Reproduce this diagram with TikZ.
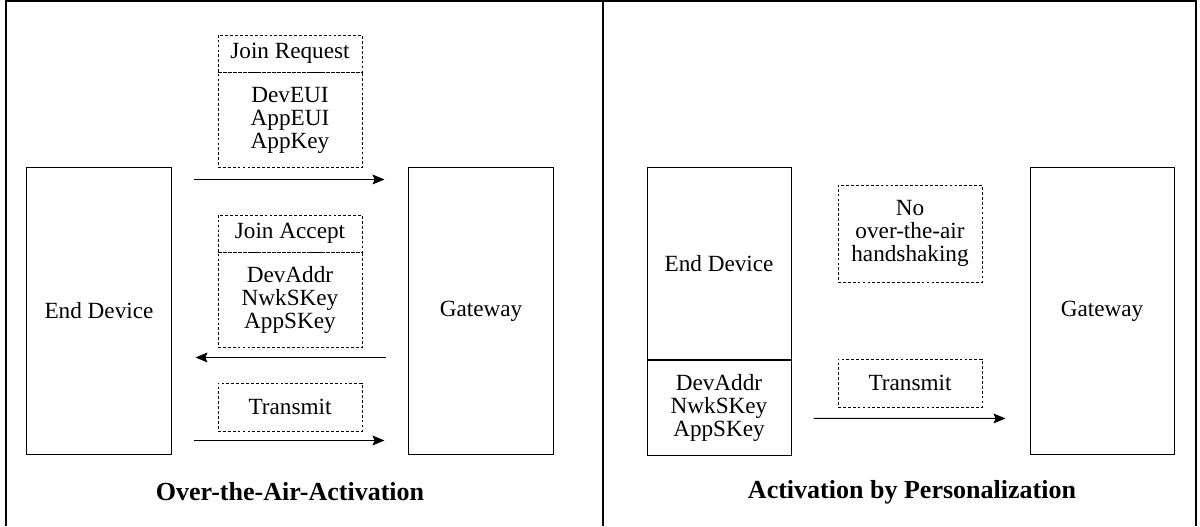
\documentclass[tikz,border=0pt]{standalone}
\usepackage{fontspec}
\setmainfont{Liberation Serif}
\usetikzlibrary{positioning,arrows.meta,calc}

\begin{document}
\begin{tikzpicture} [
        x = 0.025cm, y = -0.025cm,
        every node/.style = { font = \fontsize{16.5}{16.4}\selectfont, align = center, inner sep = 0 },
        device/.style = { draw, line width = 0.7pt, minimum width = 3.6cm },
        field/.style = { draw, dashed, dash pattern = on 2pt off 1.5pt, line width = 0.6pt, minimum width = 3.6cm },
        msg/.style = { -{Stealth[length = 8.5pt, width = 7pt, inset = 1.5pt]}, line width = 0.7pt,
                       shorten < = 0.55cm, shorten > = 0.6cm },
        title/.style = { font = \fontsize{18.5}{20}\selectfont\bfseries }
        ]
        \useasboundingbox (0,0) rectangle (1200,526);

        % frame
        \draw [line width = 1.2pt] (6,526) -- (6,1) -- (1196,1) -- (1196,526);
        \draw [line width = 0.8pt] (603,1) -- (603,526);

        % over-the-air activation
        \node [device, minimum height = 7.15cm] (ed1) at (99,311) {End Device};
        \node [device, minimum height = 7.15cm] (gw1) at (481,311) {Gateway};

        \node [field, minimum height = 0.925cm] (jreq) at (290,53.5) {Join Request};
        \node [field, minimum height = 2.375cm, below = 0pt of jreq] (jreqkeys) {DevEUI\\AppEUI\\AppKey};
        \node [field, minimum height = 0.925cm] (jacc) at (290,233.5) {Join Accept};
        \node [field, minimum height = 2.375cm, below = 0pt of jacc] (jacckeys) {DevAddr\\NwkSKey\\AppSKey};
        \node [field, minimum height = 1.2cm] (tx1) at (290,407) {Transmit};

        \draw [msg] ($(ed1.north east)+(0,12)$) -- ($(gw1.north west)+(0,12)$);
        \draw [msg] ($(gw1.north west)+(0,190)$) -- ($(ed1.north east)+(0,190)$);
        \draw [msg] ($(ed1.north east)+(0,273)$) -- ($(gw1.north west)+(0,273)$);

        \node [title] (otaa) at (290,492) {Over-the-Air-Activation};

        % activation by personalization
        \node [device, minimum height = 4.775cm] (ed2) at (719,263.5) {End Device};
        \node [device, minimum height = 2.375cm, below = 0pt of ed2] (ed2keys) {DevAddr\\NwkSKey\\AppSKey};
        \node [device, minimum height = 7.15cm] (gw2) at (1102,311) {Gateway};

        \node [field, minimum height = 2.425cm] (noota) at (910,233.5) {No\\over-the-air\\handshaking};
        \node [field, minimum height = 1.2cm] (tx2) at (910,383) {Transmit};

        \draw [msg] ($(ed2.north east)+(0,251)$) -- ($(gw2.north west)+(0,251)$);

        \node [title] (abp) at (912,492) {Activation by Personalization};
    \end{tikzpicture}
\end{document}
